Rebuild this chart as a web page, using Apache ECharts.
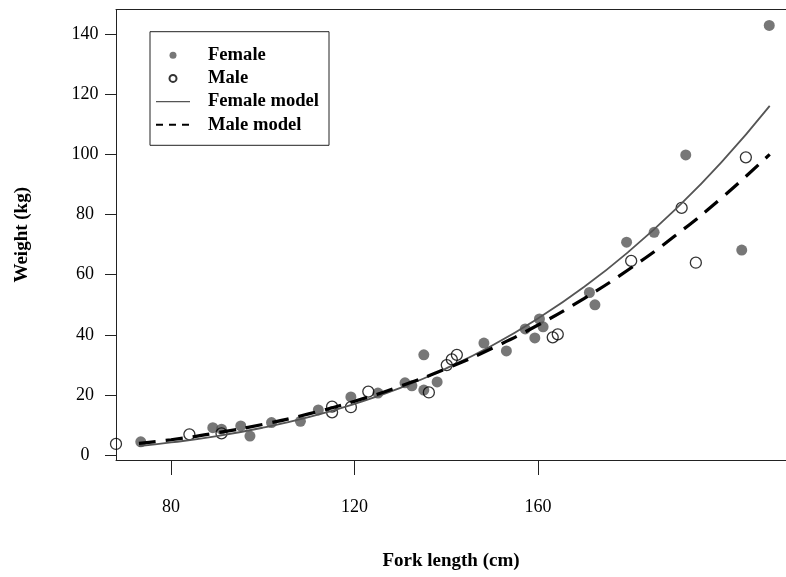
<!DOCTYPE html>
<html>
<head>
<meta charset="utf-8">
<script src="https://cdn.jsdelivr.net/npm/echarts@6/dist/echarts.min.js"></script>
<style>
  body { margin: 0; background: #fff; }
  #chart { width: 786px; height: 577px; }
</style>
</head>
<body>
<div id="chart"></div>
<script>
// fork length (cm) / weight (kg)
var femaleLength = [73.4, 89.1, 91.0, 95.2, 97.2, 101.9, 108.2, 112.1, 119.2, 125.1, 131.0, 132.5, 135.1, 135.1, 138.0,
  148.2, 153.1, 157.2, 159.3, 160.3, 161.1, 171.2, 172.4, 179.3, 185.3, 192.2, 204.4, 210.4];
var femaleWeight = [4.5, 9.2, 8.7, 9.8, 6.4, 10.9, 11.3, 15.1, 19.4, 20.7, 24.1, 23.1, 33.4, 21.7, 24.4,
  37.3, 34.7, 42.0, 39.0, 45.3, 42.7, 54.1, 50.0, 70.8, 74.1, 99.8, 68.2, 142.8];

var maleLength = [68.0, 84.0, 91.0, 115.1, 115.1, 119.2, 123.0, 136.2, 140.1, 141.2, 142.3, 163.2, 164.3, 180.3, 191.3, 194.4, 205.3];
var maleWeight = [3.8, 7.0, 7.3, 16.2, 14.3, 16.0, 21.2, 20.9, 30.0, 31.9, 33.4, 39.2, 40.2, 64.6, 82.2, 64.0, 99.0];

// model curves, sampled along the drawn lines
var modelLength = [73, 80, 90, 100, 110, 120, 130, 140, 150, 160, 170, 180, 190, 200, 210.5];
var femaleModel = [3.1, 4.3, 6.4, 9.2, 12.7, 17.1, 22.4, 28.9, 36.5, 45.5, 55.9, 68.0, 81.8, 97.4, 116.1];
var maleModel = [4.0, 5.2, 7.5, 10.3, 13.8, 18.0, 23.0, 28.8, 35.6, 43.3, 52.1, 62.0, 73.1, 85.5, 100.0];

var xTicks = [80, 120, 160];
var yTicks = [0, 20, 40, 60, 80, 100, 120, 140];

function pairs(xs, ys) {
  return xs.map(function (x, i) { return [x, ys[i]]; });
}

var font = 'Liberation Serif';
var xMin = 68, xMax = 214.05;
var noSymbol = { color: 'rgba(0,0,0,0)', borderColor: 'rgba(0,0,0,0)', borderWidth: 0 };
var myChart = echarts.init(document.getElementById('chart'));
var option = {
  animation: false,
  grid: { left: 116, top: 9.5, bottom: 117, right: 0 },
  legend: {
    left: 150, top: 31.7,
    orient: 'vertical',
    padding: [14, 10, 11, 5],
    itemGap: 4.2,
    itemWidth: 34, itemHeight: 7,
    borderColor: '#222', borderWidth: 1,
    textStyle: { fontFamily: font, fontWeight: 'bold', fontSize: 18.6, color: '#000', padding: [0, 0, 0, 13], lineHeight: 18 },
    data: [
      { name: 'Female', icon: 'circle' },
      { name: 'Male', icon: 'circle' },
      { name: 'Female model', itemStyle: noSymbol, lineStyle: { width: 1.3 } },
      { name: 'Male model', itemStyle: noSymbol, lineStyle: { width: 2, type: [7, 6] } }
    ]
  },
  xAxis: [
    {
      type: 'value',
      min: xMin, max: xMax,
      name: 'Fork length (cm)',
      nameLocation: 'middle',
      nameGap: 92,
      nameTextStyle: { fontFamily: font, fontWeight: 'bold', fontSize: 19, color: '#000' },
      axisLine: { show: true, onZero: false, lineStyle: { color: '#222', width: 1 } },
      axisTick: { show: true, length: 15, customValues: xTicks, lineStyle: { color: '#222' } },
      axisLabel: { customValues: xTicks, margin: 38, fontFamily: font, fontSize: 18, color: '#000' },
      splitLine: { show: false }
    },
    {
      // top edge of the box
      type: 'value', position: 'top',
      min: xMin, max: xMax,
      axisLine: { show: true, onZero: false, lineStyle: { color: '#222', width: 1 } },
      axisTick: { show: false },
      axisLabel: { show: false },
      splitLine: { show: false }
    }
  ],
  yAxis: {
    type: 'value',
    min: -1.53, max: 148.1,
    name: 'Weight (kg)',
    nameLocation: 'middle',
    nameGap: 84,
    nameTextStyle: { fontFamily: font, fontWeight: 'bold', fontSize: 19, color: '#000' },
    axisLine: { show: true, onZero: false, lineStyle: { color: '#222', width: 1 } },
    axisTick: { show: true, length: 11, customValues: yTicks, lineStyle: { color: '#222' } },
    axisLabel: { customValues: yTicks, margin: 31, align: 'center', fontFamily: font, fontSize: 18, color: '#000' },
    splitLine: { show: false }
  },
  series: [
    {
      name: 'Female', type: 'scatter',
      data: pairs(femaleLength, femaleWeight),
      symbol: 'circle', symbolSize: 11,
      itemStyle: { color: '#555' },
      z: 2
    },
    {
      name: 'Male', type: 'scatter',
      data: pairs(maleLength, maleWeight),
      symbol: 'circle', symbolSize: 11,
      itemStyle: { color: 'rgba(255,255,255,0)', borderColor: '#000', borderWidth: 1.3 },
      z: 2
    },
    {
      name: 'Female model', type: 'line',
      data: pairs(modelLength, femaleModel),
      symbol: 'none', smooth: true,
      itemStyle: { color: '#555' },
      lineStyle: { color: '#555', width: 1.8 },
      z: 3
    },
    {
      name: 'Male model', type: 'line',
      data: pairs(modelLength, maleModel),
      symbol: 'none', smooth: true,
      itemStyle: { color: '#000' },
      lineStyle: { color: '#000', width: 3.2, type: [17, 10] },
      z: 4
    }
  ]
};
myChart.setOption(option);
</script>
</body>
</html>
